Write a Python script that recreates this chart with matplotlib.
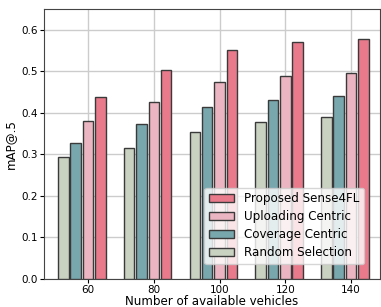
import matplotlib
matplotlib.use("Agg")
import matplotlib.pyplot as plt
import numpy as np

vehicles = [60, 80, 100, 120, 140]
random_sel = [0.294, 0.316, 0.353, 0.377, 0.390]
coverage = [0.327, 0.373, 0.413, 0.430, 0.441]
uploading = [0.381, 0.427, 0.474, 0.489, 0.496]
proposed = [0.437, 0.503, 0.552, 0.570, 0.578]

series = [
    ("Random Selection", random_sel, "#c9d1c1"),
    ("Coverage Centric", coverage, "#78a7ae"),
    ("Uploading Centric", uploading, "#ebb6c1"),
    ("Proposed Sense4FL", proposed, "#e87a8c"),
]

fig = plt.figure(figsize=(3.81, 3.07), dpi=100)
ax = fig.add_axes([0.1155, 0.0912, 0.882, 0.8795])

x = np.arange(len(vehicles))
step = 0.188
width = 0.16
handles = []
for i, (name, vals, col) in enumerate(series):
    b = ax.bar(x + (i - 2) * step, vals, width, color=col, edgecolor="#3a3a3a",
               linewidth=1.0, label=name, zorder=3)
    handles.append(b)

ax.set_xticks(x)
ax.set_xticklabels([str(v) for v in vehicles])
ax.set_xlim(-0.67, 4.44)
ax.set_ylim(0, 0.65)
ax.set_yticks([0.0, 0.1, 0.2, 0.3, 0.4, 0.5, 0.6])
ax.tick_params(labelsize=7.5, length=3, pad=1.5)
ax.grid(True, color="#cccccc", linewidth=1.0, zorder=0)
ax.set_axisbelow(True)
ax.set_xlabel("Number of available vehicles", fontsize=8.6, labelpad=0)
ax.set_ylabel("mAP@.5", fontsize=8.6, labelpad=3)
for s in ax.spines.values():
    s.set_color("#444444")

# legend sits a bit in from the corner like the original
leg = ax.legend(handles[::-1], [s[0] for s in series][::-1], loc="lower right",
                bbox_to_anchor=(0.952, 0.055), borderaxespad=0,
                fontsize=8.6, handlelength=2.1, handleheight=0.7,
                borderpad=0.4, labelspacing=0.42, handletextpad=0.8,
                framealpha=0.8)

fig.savefig("out.png", dpi=100)
